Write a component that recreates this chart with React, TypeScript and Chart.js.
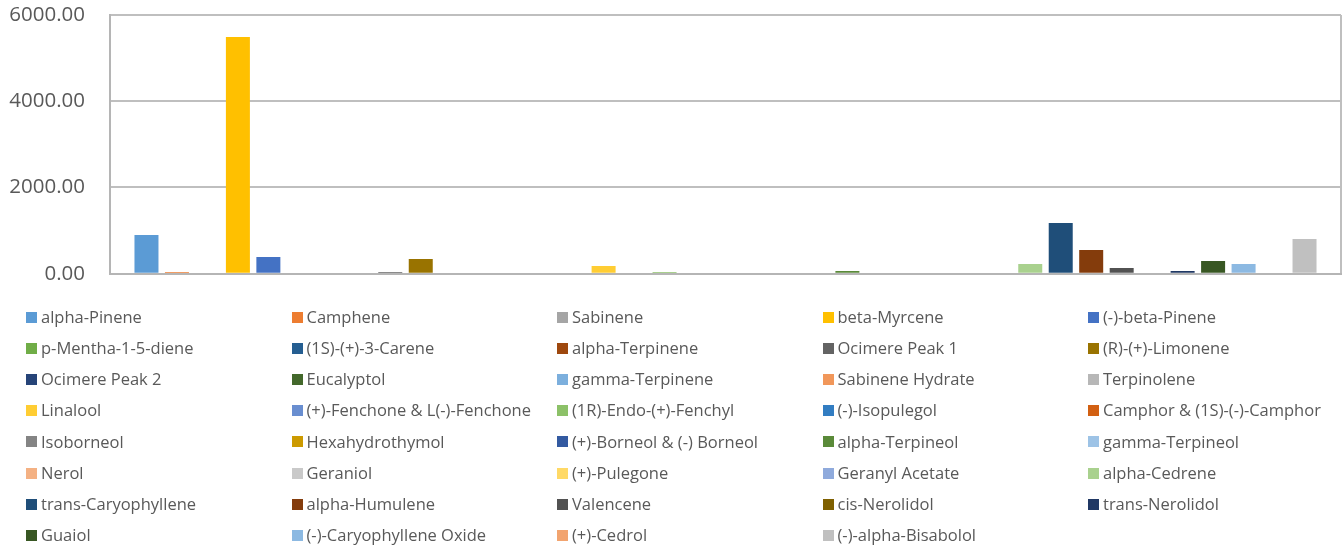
import React, { useEffect, useRef } from "react";
import { Chart, registerables } from "chart.js";

Chart.register(...registerables);

const CATEGORIES: string[] = [""];

const SERIES_NAMES: string[] = [
  "alpha-Pinene", "Camphene", "Sabinene", "beta-Myrcene", "(-)-beta-Pinene",
  "p-Mentha-1-5-diene", "(1S)-(+)-3-Carene", "alpha-Terpinene", "Ocimere Peak 1", "(R)-(+)-Limonene",
  "Ocimere Peak 2", "Eucalyptol", "gamma-Terpinene", "Sabinene Hydrate", "Terpinolene",
  "Linalool", "(+)-Fenchone & L(-)-Fenchone", "(1R)-Endo-(+)-Fenchyl", "(-)-Isopulegol", "Camphor & (1S)-(-)-Camphor",
  "Isoborneol", "Hexahydrothymol", "(+)-Borneol & (-) Borneol", "alpha-Terpineol", "gamma-Terpineol",
  "Nerol", "Geraniol", "(+)-Pulegone", "Geranyl Acetate", "alpha-Cedrene",
  "trans-Caryophyllene", "alpha-Humulene", "Valencene", "cis-Nerolidol", "trans-Nerolidol",
  "Guaiol", "(-)-Caryophyllene Oxide", "(+)-Cedrol", "(-)-alpha-Bisabolol",
];

const SERIES_VALUES: number[] = [
  897, 40, 0, 5490, 387,
  0, 0, 0, 40, 340,
  0, 20, 0, 0, 0,
  178, 0, 40, 0, 0,
  0, 0, 0, 65, 0,
  0, 0, 0, 0, 224,
  1175, 549, 131, 0, 62,
  294, 224, 0, 804,
];

const SERIES_COLORS: string[] = [
  "#5B9BD5", "#ED7D31", "#A5A5A5", "#FFC000", "#4472C4",
  "#70AD47", "#255E91", "#9E480E", "#636363", "#997300",
  "#264478", "#43682B", "#7CAFDD", "#F1975A", "#B7B7B7",
  "#FFCD33", "#698ED0", "#8CC168", "#327DC2", "#D26012",
  "#848484", "#CC9A00", "#335AA1", "#5A8A39", "#9DC3E6",
  "#F4B183", "#C9C9C9", "#FFD966", "#8FAADC", "#A9D18E",
  "#1F4E79", "#843C0C", "#525252", "#7F6000", "#203864",
  "#385723", "#8CB9E2", "#F2A46F", "#C0C0C0",
];

const Y_TICKS: number[] = [0, 2000, 4000, 6000];

const gridLegend = {
  id: "gridLegend",
  afterDraw(chart: any) {
    const ctx = chart.ctx;
    ctx.save();
    ctx.font = '16.5px "Open Sans"';
    ctx.textBaseline = "middle";
    ctx.textAlign = "left";
    chart.data.datasets.forEach((ds: any, i: number) => {
      const col = i % 5;
      const row = Math.floor(i / 5);
      const tx = 41 + col * 265.5;
      const cy = 317 + row * 31.2;
      ctx.fillStyle = ds.backgroundColor;
      ctx.fillRect(Math.round(tx - 15), Math.round(cy - 5.5), 11, 11);
      ctx.fillStyle = "#595959";
      ctx.fillText(ds.label, tx, cy + 1);
    });
    ctx.restore();
  },
};

export default function App() {
  const canvasRef = useRef<HTMLCanvasElement | null>(null);

  useEffect(() => {
    document.body.style.margin = "0";
    const canvas = canvasRef.current;
    if (!canvas) return;
    const chart = new Chart(canvas, {
      type: "bar",
      data: {
        labels: CATEGORIES,
        datasets: SERIES_NAMES.map((name, i) => ({
          label: name,
          data: [SERIES_VALUES[i]],
          backgroundColor: SERIES_COLORS[i],
          borderWidth: 0,
        })),
      },
      options: {
        animation: false,
        responsive: true,
        maintainAspectRatio: false,
        datasets: {
          bar: { barPercentage: 0.7876, categoryPercentage: 0.9655 },
        },
        layout: { padding: { left: 0, right: 2, top: 15, bottom: 272.3 } },
        plugins: {
          legend: { display: false },
          tooltip: { enabled: false },
          title: { display: false },
        },
        scales: {
          x: {
            type: "category",
            z: 1,
            offset: true,
            ticks: { display: false },
            grid: { display: true, offset: true, color: "#BFBFBF", lineWidth: 2, drawTicks: false },
            border: { display: true, color: "#B5B5B5", width: 2 },
            afterFit(scale: any) {
              scale.height = 0;
              scale.paddingLeft = 0; scale.paddingRight = 0; scale.paddingTop = 0; scale.paddingBottom = 0;
            },
          },
          y: {
            min: 0,
            max: 6000,
            afterBuildTicks(scale: any) { scale.ticks = Y_TICKS.map((v) => ({ value: v })); },
            ticks: {
              padding: 25,
              color: "#595959",
              font: { family: '"Open Sans"', size: 20.5 },
              callback: (v: any) => Number(v).toFixed(2),
            },
            grid: { color: "#BFBFBF", lineWidth: 2, drawTicks: false },
            border: { display: true, color: "#B5B5B5", width: 2 },
            afterFit(scale: any) {
              scale.width = 110;
              scale.paddingTop = 0; scale.paddingBottom = 0;
            },
          },
        },
      },
      plugins: [gridLegend],
    });
    return () => chart.destroy();
  }, []);

  return (
    <div style={{ width: 1343, height: 546, position: "relative", background: "#ffffff" }}>
      <canvas ref={canvasRef} />
    </div>
  );
}
